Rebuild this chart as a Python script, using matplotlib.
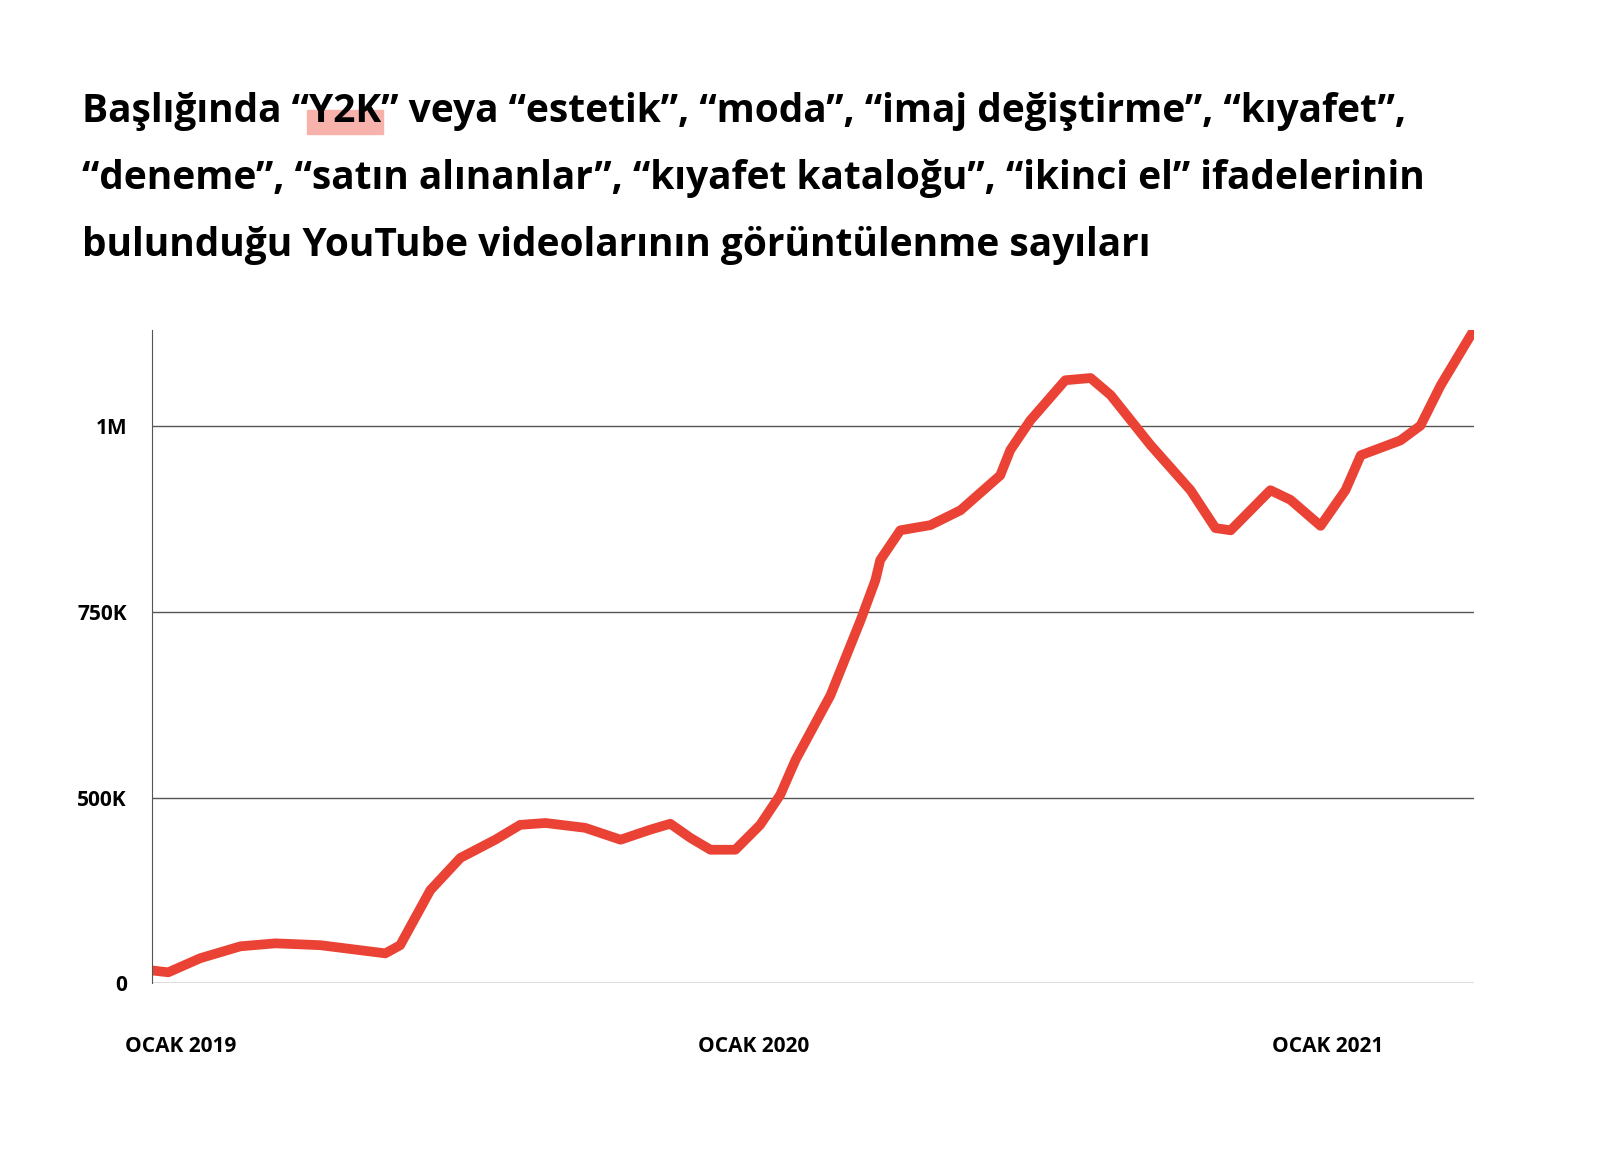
import matplotlib
matplotlib.use("Agg")
import matplotlib.pyplot as plt
import numpy as np
from matplotlib.patches import Rectangle

months = [-0.59,-0.25,0.42,1.26,1.99,2.93,4.29,4.60,5.23,5.86,6.59,7.11,7.64,8.47,9.21,9.83,10.25,10.67,11.09,11.61,12.13,12.55,12.87,13.60,14.23,14.54,14.64,15.06,15.69,16.32,17.15,17.36,17.78,18.51,19.04,19.46,20.29,21.13,21.65,21.97,22.80,23.22,23.85,24.37,24.69,25.52,25.94,26.36,27.05]
views_k = [35,30,68,100,108,103,81,103,251,338,387,427,432,419,387,414,430,392,360,360,427,504,551,638,739,793,820,860,867,887,934,968,1008,1062,1065,1042,975,914,863,860,914,901,866,914,961,981,1001,1055,1129]
ytick_vals = [0, 500, 750, 1000]
ytick_labels = ["0", "500K", "750K", "1M"]
xtick_vals = [0, 12, 24]
xtick_labels = ["OCAK 2019", "OCAK 2020", "OCAK 2021"]

def fwd(v):
    v = np.asarray(v, float)
    return np.where(v <= 500, v / 500, 1 + (v - 500) / 250)
def inv(u):
    u = np.asarray(u, float)
    return np.where(u <= 1, u * 500, 500 + (u - 1) * 250)

plt.rcParams['font.family'] = ['Open Sans', 'DejaVu Sans']
fig = plt.figure(figsize=(16, 11.57), dpi=100)
ax = fig.add_axes([0.095, 0.150, 0.826, 0.565])
ax.set_yscale('function', functions=(fwd, inv))
ax.plot(months, views_k, color='#ea4335', lw=7, solid_capstyle='round', solid_joinstyle='round')
ax.set_xlim(-0.59, 27.05)
ax.set_ylim(0, 1130)
ax.set_yticks(ytick_vals)
ax.set_yticklabels(ytick_labels, fontsize=15, fontweight='bold')
ax.set_xticks(xtick_vals)
ax.set_xticklabels(xtick_labels, fontsize=15, fontweight='bold')
ax.yaxis.set_minor_locator(matplotlib.ticker.NullLocator())
ax.tick_params(length=0, pad=18)
ax.tick_params(axis='x', pad=38)
ax.grid(axis='y', color='#555555', lw=1)
for s in ['top', 'right', 'bottom']:
    ax.spines[s].set_visible(False)
ax.spines['left'].set_color('#555555')
ax.set_axisbelow(True)

lines = ["Başlığında “Y2K” veya “estetik”, “moda”, “imaj değiştirme”, “kıyafet”,",
         "“deneme”, “satın alınanlar”, “kıyafet kataloğu”, “ikinci el” ifadelerinin",
         "bulunduğu YouTube videolarının görüntülenme sayıları"]
x0 = 82 / 1600
kw = dict(fontsize=28, fontweight='bold', va='baseline', ha='left')
baselines = [122, 189, 256]
for ln, b in zip(lines, baselines):
    fig.text(x0, 1 - b / 1157, ln, **kw)
r = fig.canvas.get_renderer()
t1 = fig.text(x0, 0, "Başlığında “", alpha=0, **kw)
t2 = fig.text(x0, 0, "Başlığında “Y2K", alpha=0, **kw)
w1 = t1.get_window_extent(r).x1
w2 = t2.get_window_extent(r).x1
fig.patches.append(Rectangle((w1 / 1600 - 0.001, 1 - 134 / 1157), (w2 - w1) / 1600 + 0.002, 24 / 1157,
                             transform=fig.transFigure, color='#f6b2ab', zorder=0))
fig.savefig("out.png", dpi=100, facecolor='white')
